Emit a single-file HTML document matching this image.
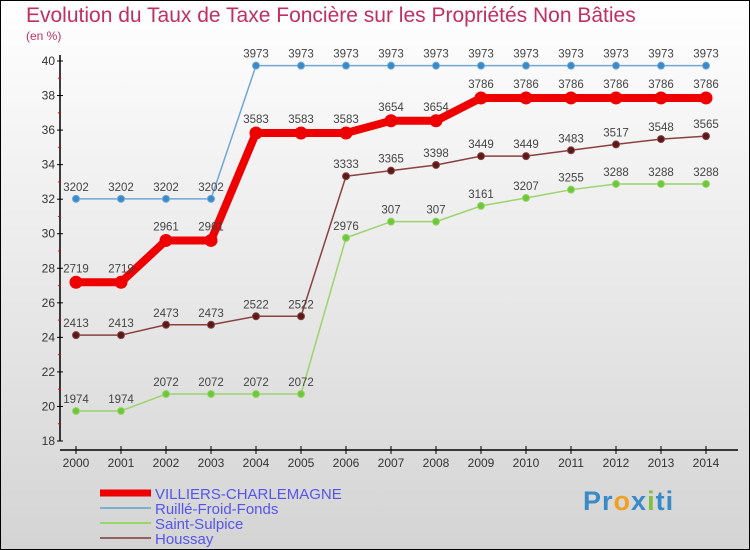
<!DOCTYPE html>
<html><head><meta charset="utf-8"><style>
body{margin:0;width:750px;height:550px;overflow:hidden;font-family:"Liberation Sans",sans-serif}
svg{display:block}
</style></head><body>
<svg id="c" width="750" height="550">
<defs><linearGradient id="bg" x1="0" y1="0" x2="0" y2="1"><stop offset="0" stop-color="#ffffff"/><stop offset="1" stop-color="#d4d4d4"/></linearGradient></defs>
<rect x="0.5" y="0.5" width="749" height="549" fill="url(#bg)" stroke="#000"/>
<text x="26" y="22" font-size="21" fill="#c0305f">Evolution du Taux de Taxe Foncière sur les Propriétés Non Bâties</text>
<text x="26" y="40" font-size="12" fill="#c0305f">(en %)</text>
<g id="axes"></g><g id="series"></g><g id="legend"></g>
</svg>
<script>
const years=[2000,2001,2002,2003,2004,2005,2006,2007,2008,2009,2010,2011,2012,2013,2014];
const villiers=[27.19,27.19,29.61,29.61,35.83,35.83,35.83,36.54,36.54,37.86,37.86,37.86,37.86,37.86,37.86];
const ruille=[32.02,32.02,32.02,32.02,39.73,39.73,39.73,39.73,39.73,39.73,39.73,39.73,39.73,39.73,39.73];
const sulpice=[19.74,19.74,20.72,20.72,20.72,20.72,29.76,30.7,30.7,31.61,32.07,32.55,32.88,32.88,32.88];
const houssay=[24.13,24.13,24.73,24.73,25.22,25.22,33.33,33.65,33.98,34.49,34.49,34.83,35.17,35.48,35.65];
const yTicks=[18,20,22,24,26,28,30,32,34,36,38,40];
const NS="http://www.w3.org/2000/svg";
const X=i=>76+45*i, Y=v=>441-(v-18)*(380/22);
function mk(p,t,a,txt){const e=document.createElementNS(NS,t);for(const k in a)e.setAttribute(k,a[k]);if(txt!==undefined)e.textContent=txt;p.appendChild(e);return e;}
const ax=document.getElementById('axes');
let e=mk(ax,'line',{x1:60,y1:55,x2:60,y2:441,stroke:'#000','stroke-width':1.5});

e=mk(ax,'line',{x1:60,y1:450,x2:738,y2:450,stroke:'#000','stroke-width':1.5});

yTicks.forEach(v=>{mk(ax,'line',{x1:57,y1:Y(v),x2:63,y2:Y(v),stroke:'#000'});
 if(v<40)mk(ax,'line',{x1:58,y1:Y(v+1),x2:61,y2:Y(v+1),stroke:'#e00'});
 e=mk(ax,'text',{x:55,y:Y(v)+4,'font-size':12,fill:'#333','text-anchor':'end'},v);
 });
years.forEach((y,i)=>{mk(ax,'line',{x1:X(i),y1:446,x2:X(i),y2:454,stroke:'#000'});
 e=mk(ax,'text',{x:X(i),y:467,'font-size':12,fill:'#333','text-anchor':'middle'},y);
 });
const sg=document.getElementById('series');
function series(name,vals,col,w,r,dot){
 const g=mk(sg,'g',{});
 const pts=vals.map((v,i)=>X(i)+','+Y(v)).join(' ');
 mk(g,'polyline',{points:pts,fill:'none',stroke:col,'stroke-width':w,'stroke-linejoin':'round'});
 vals.forEach((v,i)=>{e=mk(g,'circle',{cx:X(i),cy:Y(v),r:r,fill:dot,stroke:col,'stroke-width':1});
  
  e=mk(g,'text',{x:X(i),y:Y(v)-(w>4?10:8),'font-size':11.5,fill:'#444','text-anchor':'middle'},String(v).replace('.',''));
  });
}
series('ruille',ruille,'#6fa8d6',1.5,3.5,'#3a8ac8');
series('saint-sulpice',sulpice,'#9ad46a',1.5,3.5,'#6cc83a');
series('houssay',houssay,'#8a4040',1.5,3.5,'#5a1a1a');
series('villiers',villiers,'#ee0000',8,6,'#ee0000');
const lg=document.getElementById('legend');
[['VILLIERS-CHARLEMAGNE','#ee0000',7],['Ruillé-Froid-Fonds','#7ab0d0',2],['Saint-Sulpice','#9ad46a',2],['Houssay','#946060',2]].forEach((d,i)=>{
 const y=493+15*i;const g=mk(lg,'g',{});
 
 mk(g,'line',{x1:100,y1:y,x2:151,y2:y,stroke:d[1],'stroke-width':d[2]});
 mk(g,'text',{x:155,y:y+6,'font-size':15,fill:'#5555ee'},d[0]);});
</script>
<div style="position:absolute;left:583px;top:486px;font:bold 27px 'Liberation Sans',sans-serif;letter-spacing:1px"><span style="color:#3a8ac8">Pr</span><span style="color:#f0a020">o</span><span style="color:#3a8ac8">x</span><span style="color:#80c040">i</span><span style="color:#3a8ac8">ti</span></div>
</body></html>
